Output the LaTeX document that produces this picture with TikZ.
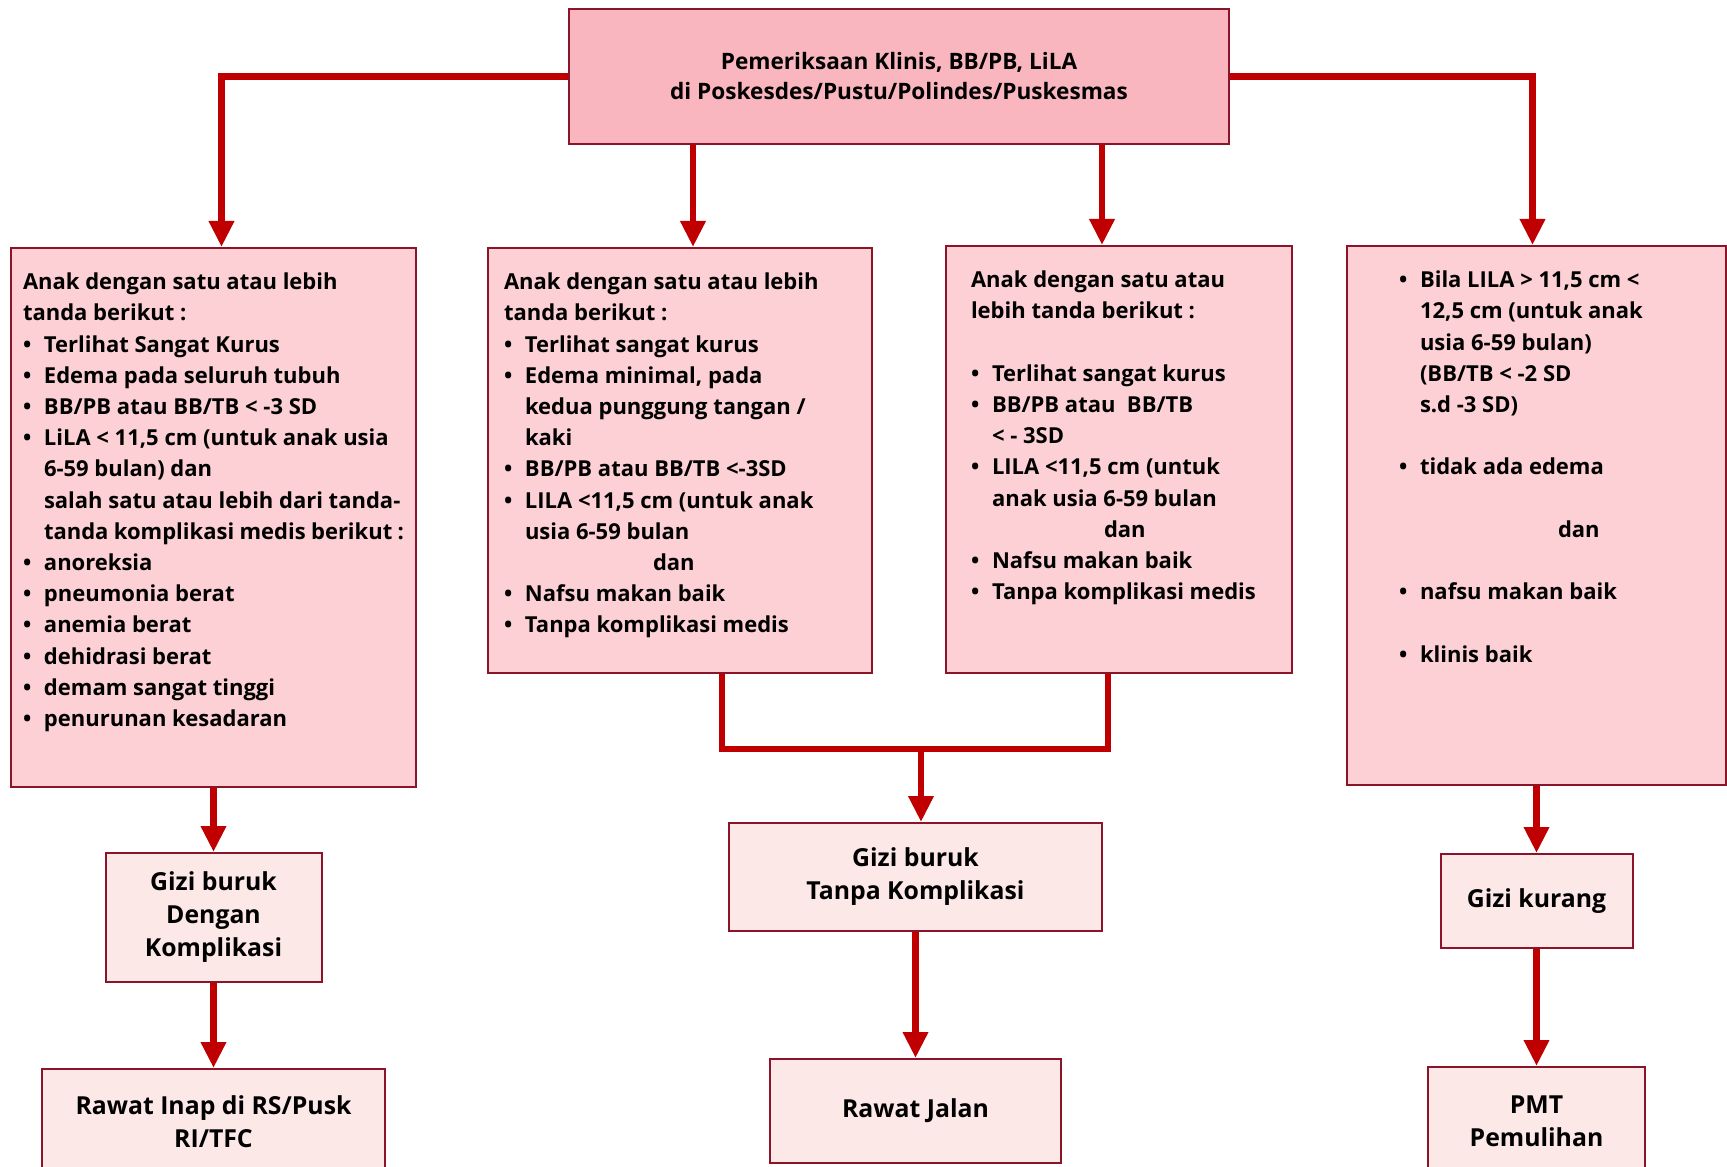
\documentclass[tikz,border=0pt]{standalone}
\usepackage{fontspec}
\setmainfont{Open Sans}
\usetikzlibrary{positioning, arrows.meta}

\definecolor{arrowred}{RGB}{192,0,0}
\definecolor{edgered}{RGB}{140,20,40}
\definecolor{headpink}{RGB}{249,182,190}
\definecolor{condpink}{RGB}{252,208,212}
\definecolor{respink}{RGB}{253,232,232}

\newlength{\bulw}\setlength{\bulw}{10.5pt}
\newcommand{\itm}{\par\makebox[\bulw][l]{\textbullet}}
\newcommand{\cnt}{\par\leavevmode\hspace*{\bulw}}
\newcommand{\blank}{\par\vspace{\baselineskip}}
\newcommand{\condtext}[4]{\parbox[t][#2][t]{#1}{\raggedright\leftskip=#3\relax\parindent=0pt #4}}

\tikzset{
  topbox/.style={draw=edgered, fill=headpink, line width=1pt, align=center,
    minimum width=330pt, minimum height=67.5pt, font=\bfseries\fontsize{11.3}{15}\selectfont},
  condbox/.style={draw=edgered, fill=condpink, line width=1pt, anchor=north west,
    inner xsep=6pt, inner ysep=12.5pt, font=\bfseries\fontsize{11}{15.6}\selectfont},
  resbox/.style={draw=edgered, fill=respink, line width=1pt, align=center,
    font=\bfseries\fontsize{12.4}{16.5}\selectfont},
  link/.style={draw=arrowred, line width=3.4pt},
  flow/.style={link, -{Triangle[length=13pt,width=12pt]}},
}

\begin{document}
\begin{tikzpicture}[x=0.5pt, y=-0.5pt]
  \useasboundingbox (0,0) rectangle (1727,1166);

  \node[topbox] (exam) at (899,76.5) {Pemeriksaan Klinis, BB/PB, LiLA\\di Poskesdes/Pustu/Polindes/Puskesmas};

  \node[condbox] (b1) at (10,247) {\condtext{190.5pt}{244.5pt}{0pt}{%
    Anak dengan satu atau lebih\par tanda berikut :
    \itm Terlihat Sangat Kurus
    \itm Edema pada seluruh tubuh
    \itm BB/PB atau BB/TB < -3 SD
    \itm LiLA < 11,5 cm (untuk anak usia
    \cnt 6-59 bulan) dan
    \cnt salah satu atau lebih dari tanda-
    \cnt tanda komplikasi medis berikut :
    \itm anoreksia
    \itm pneumonia berat
    \itm anemia berat
    \itm dehidrasi berat
    \itm demam sangat tinggi
    \itm penurunan kesadaran}};

  \node[condbox] (b2) at (487,247) {\condtext{180pt}{187.5pt}{2pt}{%
    Anak dengan satu atau lebih\par tanda berikut :
    \itm Terlihat sangat kurus
    \itm Edema minimal, pada
    \cnt kedua punggung tangan /
    \cnt kaki
    \itm BB/PB atau BB/TB <-3SD
    \itm LILA <11,5 cm (untuk anak
    \cnt usia 6-59 bulan
    \par\leavevmode\hspace*{74.5pt}dan
    \itm Nafsu makan baik
    \itm Tanpa komplikasi medis}};

  \node[condbox] (b3) at (945,245) {\condtext{161pt}{188.5pt}{6.5pt}{%
    Anak dengan satu atau\par lebih tanda berikut :
    \blank
    \itm Terlihat sangat kurus
    \itm BB/PB atau\ \ BB/TB
    \cnt < - 3SD
    \itm LILA <11,5 cm (untuk
    \cnt anak usia 6-59 bulan
    \par\leavevmode\hspace*{66.5pt}dan
    \itm Nafsu makan baik
    \itm Tanpa komplikasi medis}};

  \node[condbox] (b4) at (1346,245) {\condtext{177.5pt}{244.5pt}{20pt}{%
    \itm Bila LILA > 11,5 cm <
    \cnt 12,5 cm (untuk anak
    \cnt usia 6-59 bulan)
    \cnt (BB/TB < -2 SD
    \cnt s.d -3 SD)
    \blank
    \itm tidak ada edema
    \blank
    \par\leavevmode\hspace*{79.5pt}dan
    \blank
    \itm nafsu makan baik
    \blank
    \itm klinis baik}};

  \node[resbox, minimum width=108pt, minimum height=64.5pt, below=32pt of b1] (gbk) {Gizi buruk\\Dengan\\Komplikasi};
  \node[resbox, minimum width=171.5pt, minimum height=52.5pt, below=42.5pt of gbk] (inap) {Rawat Inap di RS/Pusk\\RI/TFC};
  \node[resbox, minimum width=186.5pt, minimum height=54pt] (gbt) at (915.5,877) {Gizi buruk\\Tanpa Komplikasi};
  \node[resbox, minimum width=145.5pt, minimum height=52pt, below=63pt of gbt] (jalan) {Rawat Jalan};
  \node[resbox, minimum width=96pt, minimum height=47pt, below=33.5pt of b4] (gk) {Gizi kurang};
  \node[resbox, minimum width=108.5pt, minimum height=54pt, below=58.5pt of gk] (pmt) {PMT\\Pemulihan};

  \coordinate (t2) at ([xshift=6.5pt]b2.north);
  \coordinate (t3) at ([xshift=-8.5pt]b3.north);
  \coordinate (s2) at ([xshift=21pt]b2.south);
  \coordinate (s3) at ([xshift=-5.5pt]b3.south);
  \coordinate (join) at (921,749);

  \draw[flow] (exam.west) -| ([xshift=4pt]b1.north);
  \draw[flow] (exam.east) -| ([xshift=-2pt]b4.north);
  \draw[flow] (t2 |- exam.south) -- (t2);
  \draw[flow] (t3 |- exam.south) -- (t3);

  \draw[flow] (b1.south) -- (gbk.north);
  \draw[flow] (gbk.south) -- (inap.north);
  \draw[link] (s2) |- (join) -| (s3);
  \draw[flow] (join) -- (join |- gbt.north);
  \draw[flow] (gbt.south) -- (jalan.north);
  \draw[flow] (b4.south) -- (gk.north);
  \draw[flow] (gk.south) -- (pmt.north);
\end{tikzpicture}
\end{document}
